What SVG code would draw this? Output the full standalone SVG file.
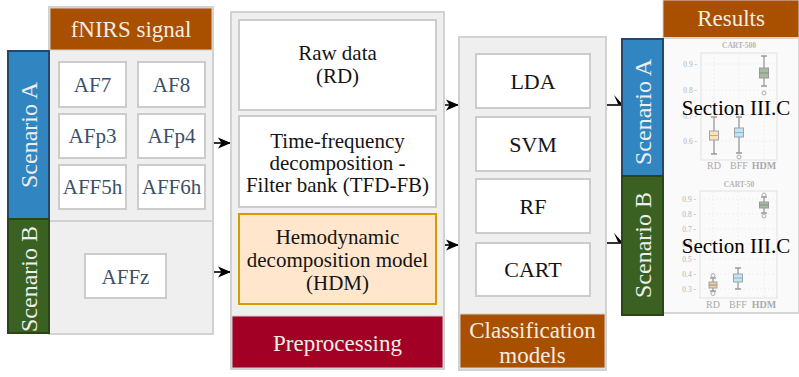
<svg xmlns="http://www.w3.org/2000/svg" width="799" height="377" viewBox="0 0 799 377">
  <style>
    .panel { fill: #efefef; stroke: #d2d2d2; stroke-width: 2; }
    .box { fill: #ffffff; stroke: #cccccc; stroke-width: 2; }
    .hdm { fill: #ffe6cc; stroke: #d79b00; stroke-width: 2; }
    .hdr { fill: #a94f00; stroke: #d2d2d2; stroke-width: 1; }
    .prep { fill: #a20025; stroke: #d2d2d2; stroke-width: 1; }
    .scA { fill: #3186c2; stroke: #24476a; stroke-width: 2; }
    .scB { fill: #3a6121; stroke: #2a4516; stroke-width: 2; }
    .t { font-family: "Liberation Serif", "Times New Roman", serif; text-anchor: middle; }
    .light { fill: #f4ede6; font-size: 23px; }
    .elec { fill: #3b4f6b; font-size: 21px; }
    .body { fill: #141414; font-size: 21px; }
    .model { fill: #141414; font-size: 22px; }
    .side { fill: #eeeeee; font-size: 24px; }
    .sec { fill: #000000; font-size: 21px; }
    .conn { fill: none; stroke: #000000; stroke-width: 1.6; }
    .frame { fill: none; stroke: #e2e2e2; stroke-width: 1; }
    .grid { stroke: #ececec; stroke-width: 0.8; stroke-dasharray: 2 2; }
    .ax { font-family: "Liberation Serif", serif; fill: #b3b3b3; font-size: 7.5px; text-anchor: end; }
    .xl { font-family: "Liberation Serif", serif; fill: #aaaaaa; font-size: 10px; text-anchor: middle; }
    .ttl { font-family: "Liberation Serif", serif; fill: #b5b5b5; font-size: 7.5px; font-weight: bold; text-anchor: middle; }
    .wh { stroke: #9a9a9a; stroke-width: 1.3; fill: none; }
    .out { fill: none; stroke: #a5a5a5; stroke-width: 0.9; }
  </style>
  <defs>
    <marker id="arrow" markerUnits="userSpaceOnUse" markerWidth="14" markerHeight="12" viewBox="0 0 14 12" refX="13" refY="6" orient="auto">
      <path d="M0,0.5 L13,6 L0,11.5 L3.5,6 Z" fill="#000000"/>
    </marker>
  </defs>

  <rect width="799" height="377" fill="#ffffff"/>

  <!-- connectors -->
  <g id="connectors">
    <path class="conn" d="M213,143 H231" marker-end="url(#arrow)"/>
    <path class="conn" d="M213,272 H231" marker-end="url(#arrow)"/>
    <path class="conn" d="M444,89 V105 H459" marker-end="url(#arrow)"/>
    <path class="conn" d="M444,245 H459" marker-end="url(#arrow)"/>
    <path class="conn" d="M606,105 H623"/>
    <path d="M614,95 L624,106 L618,104 Z" fill="#000000"/>
    <path class="conn" d="M606,243 H623"/>
    <path d="M614,233 L624,244 L618,242 Z" fill="#000000"/>
  </g>

  <!-- fNIRS signal panel -->
  <g id="fnirs">
    <rect class="panel" x="49" y="7" width="164" height="327"/>
    <line x1="49" y1="221" x2="213" y2="221" stroke="#d2d2d2" stroke-width="2"/>
    <rect class="hdr" x="50" y="8" width="162" height="42"/>
    <text class="t light" x="131" y="37">fNIRS signal</text>
  </g>
  <g id="af7"><rect class="box" x="59" y="62" width="67" height="45"/><text class="t elec" x="92.5" y="92">AF7</text></g>
  <g id="af8"><rect class="box" x="138" y="62" width="67" height="45"/><text class="t elec" x="171.5" y="92">AF8</text></g>
  <g id="afp3"><rect class="box" x="59" y="114" width="67" height="44"/><text class="t elec" x="92.5" y="143">AFp3</text></g>
  <g id="afp4"><rect class="box" x="138" y="114" width="67" height="44"/><text class="t elec" x="171.5" y="143">AFp4</text></g>
  <g id="aff5h"><rect class="box" x="59" y="165" width="67" height="44"/><text class="t elec" x="92.5" y="194">AFF5h</text></g>
  <g id="aff6h"><rect class="box" x="138" y="165" width="67" height="44"/><text class="t elec" x="171.5" y="194">AFF6h</text></g>
  <g id="affz"><rect class="box" x="85" y="254" width="81" height="44"/><text class="t elec" x="125.5" y="284">AFFz</text></g>

  <g id="scenario-a-left">
    <rect class="scA" x="8" y="51" width="41" height="168"/>
    <text class="t side" transform="translate(37,135) rotate(-90)">Scenario A</text>
  </g>
  <g id="scenario-b-left">
    <rect class="scB" x="8" y="219" width="41" height="114"/>
    <text class="t side" transform="translate(37,279) rotate(-90)">Scenario B</text>
  </g>

  <!-- Preprocessing panel -->
  <g id="preprocessing">
    <rect class="panel" x="231" y="12" width="213" height="357"/>
    <rect class="prep" x="232" y="316" width="211" height="52"/>
    <text class="t light" x="337.5" y="351" font-size="24">Preprocessing</text>
  </g>
  <g id="rd">
    <rect class="box" x="239" y="20" width="197" height="90"/>
    <text class="t body" x="337.5" y="60">Raw data</text>
    <text class="t body" x="337.5" y="83">(RD)</text>
  </g>
  <g id="tfd-fb">
    <rect class="box" x="239" y="116" width="197" height="91"/>
    <text class="t body" x="337.5" y="148">Time-frequency</text>
    <text class="t body" x="337.5" y="170">decomposition -</text>
    <text class="t body" x="337.5" y="192">Filter bank (TFD-FB)</text>
  </g>
  <g id="hdm">
    <rect class="hdm" x="239" y="214" width="197" height="90"/>
    <text class="t body" x="337.5" y="244">Hemodynamic</text>
    <text class="t body" x="337.5" y="267">decomposition model</text>
    <text class="t body" x="337.5" y="290">(HDM)</text>
  </g>

  <!-- Classification panel -->
  <g id="classification">
    <rect class="panel" x="459" y="37" width="147" height="333"/>
    <rect class="hdr" x="460" y="314" width="145" height="54"/>
    <text class="t light" x="532.5" y="338">Classification</text>
    <text class="t light" x="532.5" y="363">models</text>
  </g>
  <g id="lda"><rect class="box" x="476" y="54" width="114" height="54"/><text class="t model" x="533" y="89">LDA</text></g>
  <g id="svm"><rect class="box" x="476" y="117" width="114" height="54"/><text class="t model" x="533" y="152">SVM</text></g>
  <g id="rf"><rect class="box" x="476" y="179" width="114" height="54"/><text class="t model" x="533" y="214">RF</text></g>
  <g id="cart"><rect class="box" x="476" y="243" width="114" height="53"/><text class="t model" x="533" y="277">CART</text></g>

  <!-- Results -->
  <g id="results">
    <rect class="hdr" x="663" y="0" width="136" height="38"/>
    <text class="t light" x="731" y="26" font-size="23">Results</text>
    <rect x="663" y="38" width="136" height="275" fill="#fafafa" stroke="#d6d6d6" stroke-width="2"/>
  </g>

  <g id="scenario-a-right">
    <rect class="scA" x="622" y="39" width="41" height="137"/>
    <text class="t side" transform="translate(651,112) rotate(-90)">Scenario A</text>
  </g>
  <g id="scenario-b-right">
    <rect class="scB" x="622" y="176" width="41" height="139"/>
    <text class="t side" transform="translate(651,245) rotate(-90)">Scenario B</text>
  </g>

  <!-- CART-500 box plot -->
  <g id="chart-a">
    <text class="ttl" x="739" y="48">CART-500</text>
    <line class="grid" x1="701" y1="64" x2="777" y2="64"/>
    <line class="grid" x1="701" y1="90" x2="777" y2="90"/>
    <line class="grid" x1="701" y1="116" x2="777" y2="116"/>
    <line class="grid" x1="701" y1="141" x2="777" y2="141"/>
    <line class="grid" x1="714" y1="53" x2="714" y2="160"/>
    <line class="grid" x1="739" y1="53" x2="739" y2="160"/>
    <line class="grid" x1="764" y1="53" x2="764" y2="160"/>
    <rect class="frame" x="701" y="53" width="76" height="107"/>
    <text class="ax" x="697" y="66.5">0.9 -</text>
    <text class="ax" x="697" y="92.5">0.8 -</text>
    <text class="ax" x="697" y="118.5">0.7 -</text>
    <text class="ax" x="697" y="143.5">0.6 -</text>
    <!-- RD -->
    <path class="wh" d="M714,117 V154 M711,117 H717 M711,154 H717"/>
    <rect x="709.5" y="131" width="9" height="9" fill="#fde3bd" stroke="#a3a3a3" stroke-width="1"/>
    <line x1="709.5" y1="135.5" x2="718.5" y2="135.5" stroke="#b5a070" stroke-width="0.8"/>
    <!-- BFF -->
    <path class="wh" d="M739,117 V153 M736,117 H742 M736,153 H742"/>
    <rect x="734.5" y="128" width="9" height="9" fill="#c2e4f7" stroke="#a3a3a3" stroke-width="1"/>
    <line x1="734.5" y1="132.5" x2="743.5" y2="132.5" stroke="#7fa8c0" stroke-width="0.8"/>
    <circle class="out" cx="739" cy="157" r="2"/>
    <!-- HDM -->
    <path class="wh" d="M764,56 V86 M761,56 H767 M761,86 H767"/>
    <rect x="759.5" y="68" width="9" height="10" fill="#a9b9a4" stroke="#9a9a9a" stroke-width="1"/>
    <line x1="759.5" y1="73" x2="768.5" y2="73" stroke="#7a8a75" stroke-width="0.8"/>
    <circle class="out" cx="764" cy="93" r="2"/>
    <text class="xl" x="714" y="169">RD</text>
    <text class="xl" x="739" y="169">BFF</text>
    <text class="xl" x="764" y="169" font-weight="bold">HDM</text>
    <text class="t sec" x="736" y="115">Section III.C</text>
  </g>

  <!-- CART-50 box plot -->
  <g id="chart-b">
    <text class="ttl" x="739" y="187">CART-50</text>
    <line class="grid" x1="700" y1="199" x2="777" y2="199"/>
    <line class="grid" x1="700" y1="214" x2="777" y2="214"/>
    <line class="grid" x1="700" y1="229" x2="777" y2="229"/>
    <line class="grid" x1="700" y1="244" x2="777" y2="244"/>
    <line class="grid" x1="700" y1="259" x2="777" y2="259"/>
    <line class="grid" x1="700" y1="274" x2="777" y2="274"/>
    <line class="grid" x1="700" y1="289" x2="777" y2="289"/>
    <line class="grid" x1="713" y1="191" x2="713" y2="298"/>
    <line class="grid" x1="738" y1="191" x2="738" y2="298"/>
    <line class="grid" x1="764" y1="191" x2="764" y2="298"/>
    <rect class="frame" x="700" y="191" width="77" height="107"/>
    <text class="ax" x="696" y="201.5">0.9 -</text>
    <text class="ax" x="696" y="216.5">0.8 -</text>
    <text class="ax" x="696" y="231.5">0.7 -</text>
    <text class="ax" x="696" y="246.5">0.6 -</text>
    <text class="ax" x="696" y="262">0.5 -</text>
    <text class="ax" x="696" y="276.5">0.4 -</text>
    <text class="ax" x="696" y="291.5">0.3 -</text>
    <!-- RD -->
    <path class="wh" d="M713,278 V291 M710,278 H716 M710,291 H716"/>
    <rect x="709" y="282" width="8" height="6" fill="#e9cfa8" stroke="#a3a3a3" stroke-width="1"/>
    <line x1="709" y1="285" x2="717" y2="285" stroke="#9a8060" stroke-width="0.8"/>
    <circle class="out" cx="713" cy="275.5" r="2"/>
    <circle class="out" cx="713" cy="293.5" r="2"/>
    <!-- BFF -->
    <path class="wh" d="M738,268 V289 M735,268 H741 M735,289 H741"/>
    <rect x="733.5" y="274" width="9" height="8" fill="#c2e4f7" stroke="#a3a3a3" stroke-width="1"/>
    <line x1="733.5" y1="278" x2="742.5" y2="278" stroke="#7fa8c0" stroke-width="0.8"/>
    <!-- HDM -->
    <path class="wh" d="M764,197 V213 M761,197 H767 M761,213 H767"/>
    <rect x="759.5" y="202" width="9" height="6" fill="#a9b9a4" stroke="#9a9a9a" stroke-width="1"/>
    <line x1="759.5" y1="205" x2="768.5" y2="205" stroke="#7a8a75" stroke-width="0.8"/>
    <circle class="out" cx="764" cy="195" r="2"/>
    <circle class="out" cx="764" cy="216" r="2"/>
    <text class="xl" x="713" y="308">RD</text>
    <text class="xl" x="738" y="308">BFF</text>
    <text class="xl" x="764" y="308" font-weight="bold">HDM</text>
    <text class="t sec" x="736" y="253">Section III.C</text>
  </g>
</svg>
